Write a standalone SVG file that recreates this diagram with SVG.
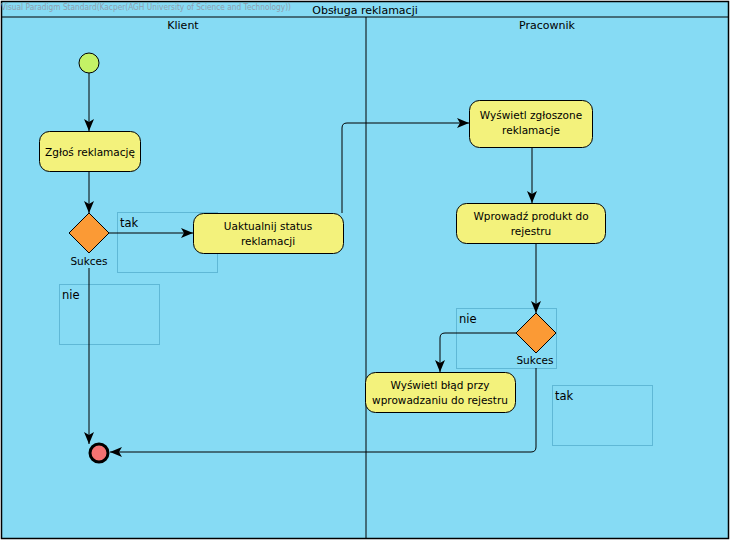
<svg xmlns="http://www.w3.org/2000/svg" width="732" height="543" viewBox="0 0 732 543">
<style>
text{font-family:"DejaVu Sans","Liberation Sans",sans-serif;fill:#000}
.act{fill:#f3f27c;stroke:#000;stroke-width:1}
.dec{fill:#fb9a35;stroke:#000;stroke-width:1}
.lbl{font-size:10.5px;text-anchor:middle}
.guard{fill:none;stroke:#5fb8d6;stroke-width:1}
.gt{font-size:11.5px}
.edge{fill:none;stroke:#000;stroke-width:1}
</style>
<defs>
<marker id="ah" viewBox="0 0 12 10" refX="12" refY="5" markerWidth="12" markerHeight="10" markerUnits="userSpaceOnUse" orient="auto">
<path d="M0,0 L12,5 L0,10 L3,5 Z" fill="#000"/>
</marker>
</defs>
<g id="frame">
<rect x="1.5" y="1.5" width="727" height="537" fill="#86dbf4" stroke="#000" stroke-width="1.5"/>
<line x1="1.5" y1="17" x2="728.5" y2="17" stroke="#000"/>
<line x1="366" y1="17" x2="366" y2="538.5" stroke="#000"/>
<text x="1" y="10" font-size="8" style="fill:#8f9faf" textLength="290" lengthAdjust="spacingAndGlyphs">Visual Paradigm Standard(Kacper(AGH University of Science and Technology))</text>
<text x="365" y="14" font-size="11" text-anchor="middle">Obsługa reklamacji</text>
<text x="183" y="29" font-size="11" text-anchor="middle">Klient</text>
<text x="547" y="29" font-size="11" text-anchor="middle">Pracownik</text>
</g>
<g id="guards">
<rect class="guard" x="117.5" y="212.5" width="100" height="60"/>
<rect class="guard" x="59.5" y="284.5" width="100" height="60"/>
<rect class="guard" x="456.5" y="308.5" width="100" height="60"/>
<rect class="guard" x="552.5" y="385.5" width="100" height="60"/>
</g>
<g id="connectors">
<line class="edge" x1="89" y1="73" x2="89" y2="131" marker-end="url(#ah)"/>
<line class="edge" x1="89" y1="171" x2="89" y2="213" marker-end="url(#ah)"/>
<line class="edge" x1="109" y1="233" x2="193" y2="233" marker-end="url(#ah)"/>
<path class="edge" d="M342,213 L342,128 Q342,123 347,123 L469,123" marker-end="url(#ah)"/>
<line class="edge" x1="532" y1="147" x2="532" y2="203" marker-end="url(#ah)"/>
<line class="edge" x1="536" y1="243" x2="536" y2="313" marker-end="url(#ah)"/>
<path class="edge" d="M516,333 L445,333 Q440,333 440,338 L440,372" marker-end="url(#ah)"/>
<line class="edge" x1="89" y1="268" x2="89" y2="444" marker-end="url(#ah)"/>
<path class="edge" d="M536,368 L536,447 Q536,452 531,452 L110,452" marker-end="url(#ah)"/>
</g>
<g id="start"><circle cx="89" cy="63" r="10" fill="#c4f266" stroke="#000"/></g>
<g id="zglos">
<rect class="act" x="39.5" y="131.5" width="101" height="40" rx="10"/>
<text class="lbl" x="90" y="155.5">Zgłoś reklamację</text>
</g>
<g id="dec1">
<polygon class="dec" points="89,213 109,233 89,253 69,233"/>
<text class="lbl" x="89" y="264.5">Sukces</text>
</g>
<text class="gt" x="120" y="227">tak</text>
<text class="gt" x="62" y="299">nie</text>
<g id="uaktualnij">
<rect class="act" x="193.5" y="213.5" width="150" height="40" rx="10"/>
<text class="lbl" x="268" y="229.5">Uaktualnij status</text>
<text class="lbl" x="268" y="244.5">reklamacji</text>
</g>
<g id="wyswietl">
<rect class="act" x="469.5" y="100.5" width="123" height="47" rx="10"/>
<text class="lbl" x="531" y="118.5">Wyświetl zgłoszone</text>
<text class="lbl" x="531" y="134">reklamacje</text>
</g>
<g id="wprowadz">
<rect class="act" x="456.5" y="203.5" width="149" height="40" rx="10"/>
<text class="lbl" x="531" y="219.5">Wprowadź produkt do</text>
<text class="lbl" x="531" y="234.5">rejestru</text>
</g>
<g id="dec2">
<polygon class="dec" points="536,313 556,333 536,353 516,333"/>
<text class="lbl" x="535" y="364">Sukces</text>
</g>
<text class="gt" x="459" y="323">nie</text>
<text class="gt" x="555" y="400">tak</text>
<g id="blad">
<rect class="act" x="365.5" y="372.5" width="150" height="40" rx="10"/>
<text class="lbl" x="440" y="388.5">Wyświetl błąd przy</text>
<text class="lbl" x="440" y="403.5">wprowadzaniu do rejestru</text>
</g>
<g id="end"><circle cx="99" cy="453" r="9" fill="#f47272" stroke="#000" stroke-width="3"/></g>
</svg>
